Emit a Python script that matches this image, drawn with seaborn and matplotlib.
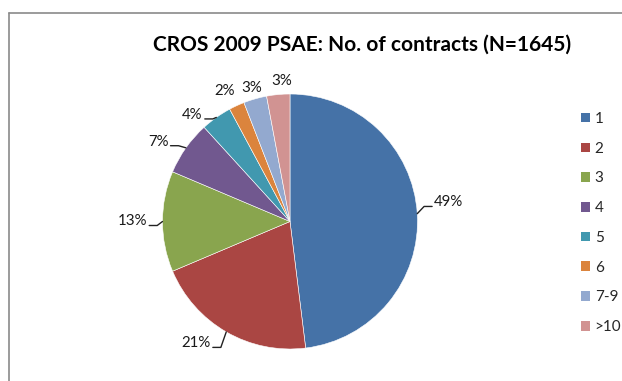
import numpy as np
import matplotlib
matplotlib.use("Agg")
import matplotlib.pyplot as plt
from matplotlib.lines import Line2D
from matplotlib.patches import Patch
import seaborn as sns

# Number of contracts per producer, share in percent
categories = ["1", "2", "3", "4", "5", "6", "7-9", ">10"]
shares = [49, 21, 13, 7, 4, 2, 3, 3]
title = "CROS 2009 PSAE: No. of contracts (N=1645)"

colors = ["#4572A7", "#AA4643", "#89A54E", "#71588F",
          "#4198AF", "#DB843D", "#93A9CF", "#D19392"]

sns.set_theme(style="white")
plt.rcParams["font.family"] = ["Lato", "DejaVu Sans"]
palette = sns.color_palette(colors)

W, H = 622, 381
fig = plt.figure(figsize=(W / 100, H / 100), dpi=100)
fig.patch.set_facecolor("white")

# pie axes: square box, radius 1 -> 127.5 px
R_PX = 127.5
CX, CY = 290, 221.5
LIM = 1.4
half = LIM * R_PX
ax = fig.add_axes([(CX - half) / W, (H - CY - half) / H, 2 * half / W, 2 * half / H])

wedges, _ = ax.pie(shares, colors=palette, startangle=90, counterclock=False,
                   radius=1.0, wedgeprops=dict(edgecolor="white", linewidth=0.4))
ax.set_xlim(-LIM, LIM)
ax.set_ylim(-LIM, LIM)
ax.set_aspect("equal")
ax.axis("off")

# data labels with short elbow leader lines
LABEL_FS = 10.8
text_r = [1.14, 1.14, 1.12, 1.14, 1.08, 1.15, 1.09, 1.10]
text_shift = [4, -3, 0, 2, 4, 2, 0, -2]
with_leader = [True, True, True, True, True, False, False, False]
px = 1 / R_PX
for w, val, r, dth, lead in zip(wedges, shares, text_r, text_shift, with_leader):
    mid = np.deg2rad((w.theta1 + w.theta2) / 2)
    ang = mid + np.deg2rad(dth)
    tx, ty = r * np.cos(ang), r * np.sin(ang)
    label = f"{val}%"
    if lead:
        right = np.cos(mid) > 0
        ax.text(tx, ty, label, ha="left" if right else "right", va="center",
                fontsize=LABEL_FS, color="#1a1a1a")
        s = 1 if right else -1
        ly = ty - 4 * px
        ax_, ay_ = np.cos(mid), np.sin(mid)
        bx = tx - s * 10 * px
        ex = tx - s * 2 * px
        ax.add_line(Line2D([ax_, bx, ex], [ay_, ly, ly], color="#222222",
                           linewidth=1.0, clip_on=False))
    else:
        ax.text(tx, ty, label, ha="center", va="center", fontsize=LABEL_FS,
                color="#1a1a1a")

# title
fig.text(362 / W, 1 - 45 / H, title, ha="center", va="center",
         fontsize=15, fontweight="bold", color="black")

# legend
handles = [Patch(facecolor=c, edgecolor="none") for c in palette]
fig.legend(handles, categories, loc="upper left",
           bbox_to_anchor=(581 / W, 1 - 112 / H), frameon=False,
           fontsize=11, handlelength=0.6, handleheight=0.6,
           handletextpad=0.3, labelspacing=1.03, borderaxespad=0,
           borderpad=0)

# chart area border (extends past the right and bottom edges)
fig.add_artist(Line2D([8.5 / W, 1.0], [1 - 12.5 / H, 1 - 12.5 / H],
                      transform=fig.transFigure, color="#8a8a8a", linewidth=1.2))
fig.add_artist(Line2D([8.5 / W, 8.5 / W], [0, 1 - 12.5 / H],
                      transform=fig.transFigure, color="#8a8a8a", linewidth=1.2))

fig.savefig("out.png", dpi=100, facecolor="white")
